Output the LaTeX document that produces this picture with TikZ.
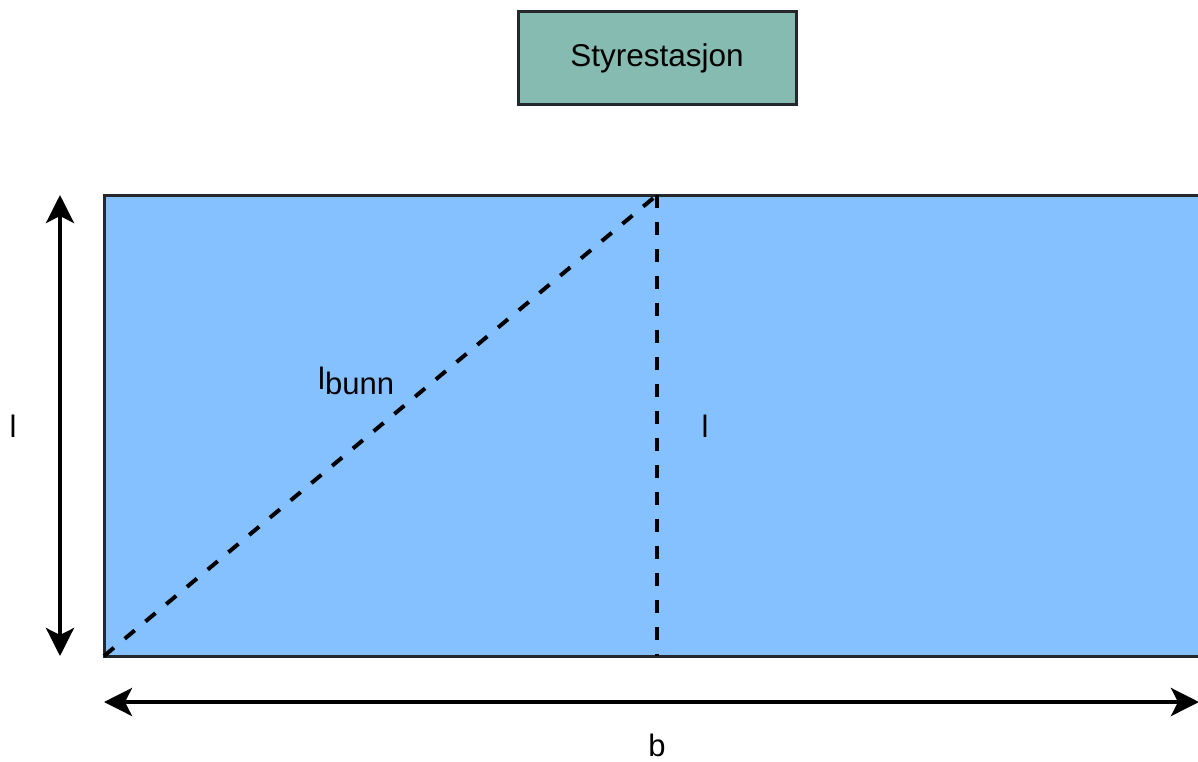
\documentclass[tikz,border=0pt]{standalone}
\usepackage{fontspec}
\setmainfont{Liberation Sans}
\usetikzlibrary{arrows.meta}
\definecolor{boxfill}{HTML}{86BBB1}
\definecolor{poolfill}{HTML}{85C1FF}
\definecolor{edge}{HTML}{24282C}
\tikzset{
  lbl/.style={inner sep=0pt, font=\fontsize{31}{36}\selectfont},
  dim/.style={line width=4pt, {Stealth[length=28pt,width=28pt,inset=7pt]}-{Stealth[length=28pt,width=28pt,inset=7pt]}},
  dashline/.style={line width=4pt, dash pattern=on 13pt off 14pt},
}
\begin{document}
\begin{tikzpicture}[x=1pt,y=-1pt]
\useasboundingbox (0,0) rectangle (1198,761);
\clip (0,0) rectangle (1198,761);
\fill[white] (0,0) rectangle (1198,761);
% control station
\node[draw=edge, line width=3pt, fill=boxfill, minimum width=278pt, minimum height=93pt, inner sep=0pt,
  font=\fontsize{31.5}{38}\selectfont] (sty) at (657,58) {Styrestasjon};
% pool
\coordinate (tl) at (104,195);
\coordinate (br) at (1215,656);
\draw[edge, line width=3pt, fill=poolfill] (tl) rectangle (br);
\coordinate (bl) at (104,656);
\coordinate (mt) at (657,195);
\coordinate (mb) at (657,656);
\draw[dashline] (bl) -- (mt);
\draw[dashline] (mt) -- (mb);
% dimension arrows
\coordinate (vt) at (60,195);
\coordinate (vb) at (60,656);
\draw[dim] (vt) -- (vb);
\coordinate (hl) at (104,702);
\coordinate (hr) at (1199,702);
\draw[dim] (hl) -- (hr);
% labels
\node[lbl] (ll) at (13,426) {l};
\node[lbl] (lm) at (705,426) {l};
\node[lbl] (lb) at (657,745) {b};
\node[lbl, anchor=base west] (lbunn) at (318,389) {l\raisebox{-5pt}{\fontsize{31}{34}\selectfont bunn}};
\end{tikzpicture}
\end{document}
